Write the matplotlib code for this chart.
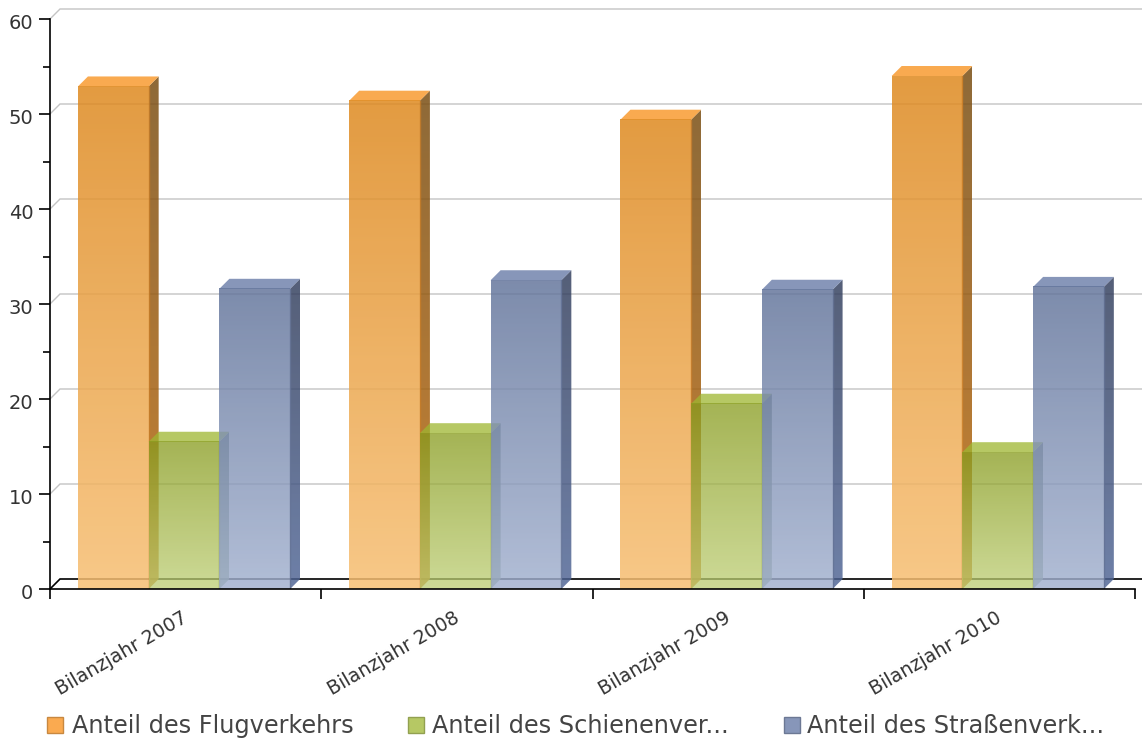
import numpy as np
import matplotlib
matplotlib.use('Agg')
import matplotlib.pyplot as plt
from matplotlib.patches import Polygon, Rectangle
from matplotlib.transforms import ScaledTranslation

# Anteile je Verkehrsträger pro Bilanzjahr
years = ['Bilanzjahr 2007', 'Bilanzjahr 2008', 'Bilanzjahr 2009', 'Bilanzjahr 2010']
series_names = ['Anteil des Flugverkehrs', 'Anteil des Schienenver...', 'Anteil des Straßenverk...']
flug = [52.9, 51.4, 49.4, 54.0]
schiene = [15.5, 16.4, 19.5, 14.4]
strasse = [31.6, 32.5, 31.5, 31.8]
y_major = [0, 10, 20, 30, 40, 50, 60]
y_minor = [5, 15, 25, 35, 45, 55]

W, H = 1142, 740
DEPTH = 10      # Tiefe des 3D-Effekts in Pixeln
BAR_W = 0.2607
GROUP_START = 0.103

# (oben, unten, Seite oben, Seite unten, Deckel, Kante, alpha) - Farben wie sie auf Weiß erscheinen
styles = [
    ((227, 155, 65), (248, 200, 135), (142, 105, 55), (200, 130, 50), (250, 170, 80), (200, 125, 40), 0.85),
    ((165, 180, 85), (205, 218, 150), (125, 140, 130), (160, 178, 150), (182, 200, 100), (135, 150, 50), 0.75),
    ((125, 140, 172), (178, 190, 215), (85, 95, 120), (110, 128, 168), (135, 150, 185), (100, 115, 150), 0.82),
]

fig = plt.figure(figsize=(W / 100, H / 100), dpi=100)
ax = fig.add_axes([50 / W, (H - 589) / H, 1085 / W, 570 / H])
ax.set_xlim(0, 4)
ax.set_ylim(0, 60)
ax.patch.set_visible(False)
for name in ['top', 'right']:
    ax.spines[name].set_visible(False)
for name in ['left', 'bottom']:
    ax.spines[name].set_linewidth(1.2)
    ax.spines[name].set_zorder(20)

dx = DEPTH / 1085 * 4
dy = DEPTH / 570 * 60


def unmix(c, alpha):
    # Farbe so umrechnen, dass sie mit alpha auf Weiß den Zielwert ergibt
    return np.clip((np.array(c) / 255 - (1 - alpha)) / alpha, 0, 1)


def gradient(c1, c2, alpha, extent, clip=None, zorder=5):
    c1 = unmix(c1, alpha)
    c2 = unmix(c2, alpha)
    t = np.linspace(0, 1, 64)[:, None]
    rgb = c1 * (1 - t) + c2 * t
    img = np.dstack([rgb[:, None, :], np.full((64, 1), alpha)])
    im = ax.imshow(img, extent=extent, aspect='auto', origin='upper',
                   zorder=zorder, interpolation='bilinear')
    if clip is not None:
        poly = Polygon(clip, closed=True, transform=ax.transData)
        im.set_clip_path(poly)
    else:
        im.set_clip_on(False)
    return im


def draw_bar(x, v, st, zorder):
    top, bottom, s_top, s_bottom, lid, edge, alpha = st
    # Seitenfläche
    side = [(x + BAR_W, 0), (x + BAR_W + dx, dy), (x + BAR_W + dx, v + dy), (x + BAR_W, v)]
    gradient(s_top, s_bottom, alpha, (x + BAR_W, x + BAR_W + dx, 0, v + dy), side, zorder)
    # Deckel
    ax.add_patch(Polygon([(x, v), (x + dx, v + dy), (x + BAR_W + dx, v + dy), (x + BAR_W, v)],
                         closed=True, facecolor=unmix(lid, alpha), edgecolor='none',
                         alpha=alpha, zorder=zorder, clip_on=False))
    # Vorderseite
    gradient(top, bottom, alpha, (x, x + BAR_W, 0, v), None, zorder + 0.1)
    ax.plot([x + BAR_W, x + BAR_W], [0, v], color=np.array(edge) / 255, lw=1.0, alpha=0.8,
            zorder=zorder + 0.2)


# Hinterwand: Gitterlinien mit kurzen Diagonalen zur Achse
for v in y_major:
    col = 'black' if v == 0 else '#c4c4c4'
    lw = 1.2 if v == 0 else 1.0
    ax.plot([0, dx, 4.03], [v, v + dy, v + dy], color=col, lw=lw, zorder=1, clip_on=False,
            solid_joinstyle='miter')

for i in range(len(years)):
    for j, vals in enumerate([flug, schiene, strasse]):
        draw_bar(i + GROUP_START + j * BAR_W, vals[i], styles[j], 5 + j)

ax.set_xlim(0, 4)
ax.set_ylim(0, 60)

ax.set_yticks(y_major)
ax.set_yticks(y_minor, minor=True)
ax.set_xticks([0, 1, 2, 3, 4])
ax.set_xticklabels([])
ax.tick_params(axis='y', which='major', length=8, width=1.2, labelsize=14, labelcolor='#333333', pad=4)
ax.tick_params(axis='y', which='minor', length=5, width=1.2)
ax.tick_params(axis='x', which='major', length=7, width=1.2)
for lab in ax.get_yticklabels():
    lab.set_transform(lab.get_transform() + ScaledTranslation(0, -2.5 / 100, fig.dpi_scale_trans))

# Jahresbeschriftung schräg unter den Gruppen
for i, label in enumerate(years):
    ax.annotate(label, xy=(i + 0.5, 0), xycoords=('data', 'axes fraction'),
                xytext=(-4, -19), textcoords='offset pixels', rotation=30,
                rotation_mode='anchor', ha='right', va='top', fontsize=13.7, color='#333333')

# Legende unten
legend_x = [47, 408, 784]
text_x = [72, 432, 807]
for j, name in enumerate(series_names):
    lid = np.array(styles[j][4]) / 255
    fig.add_artist(Rectangle((legend_x[j] / W, (H - 733) / H), 16 / W, 16 / H,
                             transform=fig.transFigure, facecolor=lid,
                             edgecolor=lid * 0.8, linewidth=1))
    fig.text(text_x[j] / W, (H - 726) / H, name, fontsize=17.3, color='#444444',
             ha='left', va='center')

fig.savefig('out.png', dpi=100)
